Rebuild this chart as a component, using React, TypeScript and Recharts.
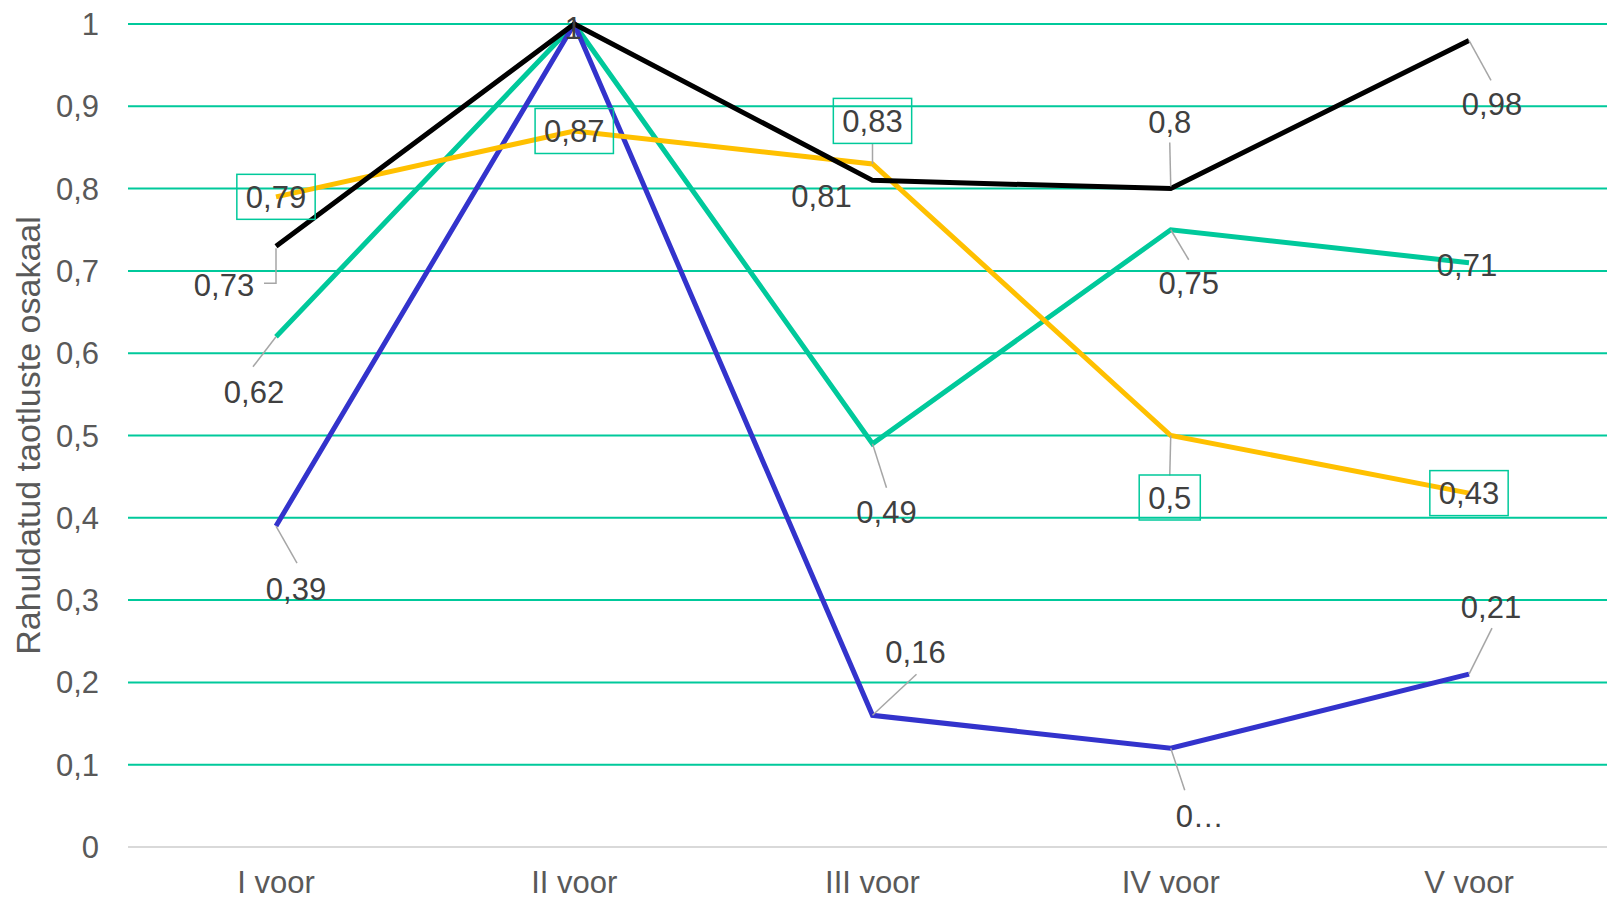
import React from 'react';
import {
  CartesianGrid,
  LabelList,
  Line,
  LineChart,
  XAxis,
  YAxis
} from 'recharts';

// Data
const categories = ['I voor', 'II voor', 'III voor', 'IV voor', 'V voor'];
const blackValues = [0.73, 1, 0.81, 0.8, 0.98];
const tealValues = [0.62, 1, 0.49, 0.75, 0.71];
const yellowValues = [0.79, 0.87, 0.83, 0.5, 0.43];
const blueValues = [0.39, 1, 0.16, 0.12, 0.21];
const yTicks = [0, 0.1, 0.2, 0.3, 0.4, 0.5, 0.6, 0.7, 0.8, 0.9, 1];
const yTitle = 'Rahuldatud taotluste osakaal';

const chartData = categories.map((name, i) => ({
  name,
  black: blackValues[i],
  teal: tealValues[i],
  yellow: yellowValues[i],
  blue: blueValues[i]
}));

const TEXT = '#595959';
const GRID = '#00C99B';
const FONT = 31;
const LINE_W = 5;

const fmt = (v: number) => String(v).replace('.', ',');

// label placement: text centre offset from the point, leader line points, optional box
interface LabelCfg {
  dx: number;
  dy: number;
  leader?: number[][];
  box?: boolean;
  text?: string;
}

const blackLabels: (LabelCfg | null)[] = [
  { dx: -52, dy: 39, leader: [[0, 2], [0, 37], [-12, 37]] },
  { dx: -1, dy: 4 },
  { dx: -51, dy: 16 },
  { dx: -1, dy: -67, leader: [[0, -2], [-1, -46]] },
  { dx: 23, dy: 63, leader: [[0, 0], [22, 40]] }
];
const tealLabels: (LabelCfg | null)[] = [
  { dx: -22, dy: 55, leader: [[0, 0], [-23, 30]] },
  null,
  { dx: 14, dy: 68, leader: [[0, 0], [14, 44]] },
  { dx: 18, dy: 53, leader: [[0, 0], [18, 30]] },
  { dx: -2, dy: 2 }
];
const yellowLabels: (LabelCfg | null)[] = [
  { dx: 0, dy: 0, box: true },
  { dx: 0, dy: 0, box: true },
  { dx: 0, dy: -43, box: true, leader: [[0, 0], [0, -20]] },
  { dx: -1, dy: 62, box: true, leader: [[0, 0], [-1, 40]] },
  { dx: 0, dy: 0, box: true }
];
const blueLabels: (LabelCfg | null)[] = [
  { dx: 20, dy: 63, leader: [[0, 0], [21, 37]] },
  null,
  { dx: 43, dy: -63, leader: [[0, 0], [44, -41]] },
  { dx: 29, dy: 68, leader: [[0, 0], [14, 42]], text: '0…' },
  { dx: 22, dy: -67, leader: [[0, 0], [23, -46]] }
];

const textWidth = (s: string) =>
  s.split('').reduce((w, c) => w + (c === ',' ? 0.278 : 0.556), 0) * FONT;

const makeLabel = (values: number[], layout: (LabelCfg | null)[]) => (props: any) => {
  const { index } = props;
  const cfg = layout[index];
  if (!cfg) return null;
  const px = Number(props.x ?? props.viewBox?.x);
  const py = Number(props.y ?? props.viewBox?.y);
  const text = cfg.text ?? fmt(values[index]);
  const cx = px + cfg.dx;
  const cy = py + cfg.dy;
  const bw = textWidth(text) + 18;
  return (
    <g>
      {cfg.leader && (
        <polyline
          points={cfg.leader.map(([a, b]) => `${px + a},${py + b}`).join(' ')}
          fill="none"
          stroke="#A6A6A6"
          strokeWidth={1.5}
        />
      )}
      {cfg.box && (
        <rect
          x={cx - bw / 2}
          y={cy - 22.5}
          width={bw}
          height={45}
          fill="none"
          stroke={GRID}
          strokeWidth={1.5}
        />
      )}
      <text
        x={cx}
        y={cy}
        dy="0.358em"
        textAnchor="middle"
        fontSize={FONT}
        fill="#404040"
      >
        {text}
      </text>
    </g>
  );
};

const YTitle = (props: any) => {
  const vb = props.viewBox || {};
  const cy = (vb.y ?? 24) + (vb.height ?? 823) / 2;
  const cx = 28;
  return (
    <text
      x={cx}
      y={cy}
      dy="0.358em"
      textAnchor="middle"
      fontSize={34}
      fill={TEXT}
      transform={`rotate(-90, ${cx}, ${cy})`}
    >
      {yTitle}
    </text>
  );
};

export default function App() {
  return (
    <div
      style={{
        position: 'absolute',
        left: 0,
        top: 0,
        width: 1607,
        height: 899,
        overflow: 'hidden',
        background: '#fff',
        fontFamily: '"Liberation Sans", Arial, sans-serif'
      }}
    >
      <LineChart
        width={1607}
        height={899}
        data={chartData}
        margin={{ top: 24, right: 0, left: 0, bottom: 0 }}
      >
        <CartesianGrid vertical={false} stroke={GRID} strokeWidth={2} />
        <XAxis
          dataKey="name"
          height={52}
          padding={{ left: 148, right: 138 }}
          tickLine={false}
          axisLine={{ stroke: '#D9D9D9', strokeWidth: 2 }}
          tick={{ fill: TEXT, fontSize: FONT }}
          tickMargin={18}
        />
        <YAxis
          width={128}
          domain={[0, 1]}
          ticks={yTicks}
          interval={0}
          tickFormatter={fmt}
          axisLine={false}
          tickLine={false}
          tick={{ fill: TEXT, fontSize: FONT }}
          tickMargin={23}
          label={{ content: <YTitle /> }}
        />
        <Line
          dataKey="teal"
          stroke={GRID}
          strokeWidth={LINE_W}
          dot={false}
          isAnimationActive={false}
        >
          <LabelList dataKey="teal" content={makeLabel(tealValues, tealLabels)} />
        </Line>
        <Line
          dataKey="blue"
          stroke="#3333CC"
          strokeWidth={LINE_W}
          dot={false}
          isAnimationActive={false}
        >
          <LabelList dataKey="blue" content={makeLabel(blueValues, blueLabels)} />
        </Line>
        <Line
          dataKey="yellow"
          stroke="#FFC000"
          strokeWidth={LINE_W}
          dot={false}
          isAnimationActive={false}
        >
          <LabelList dataKey="yellow" content={makeLabel(yellowValues, yellowLabels)} />
        </Line>
        <Line
          dataKey="black"
          stroke="#000000"
          strokeWidth={LINE_W}
          dot={false}
          isAnimationActive={false}
        >
          <LabelList dataKey="black" content={makeLabel(blackValues, blackLabels)} />
        </Line>
      </LineChart>
    </div>
  );
}
